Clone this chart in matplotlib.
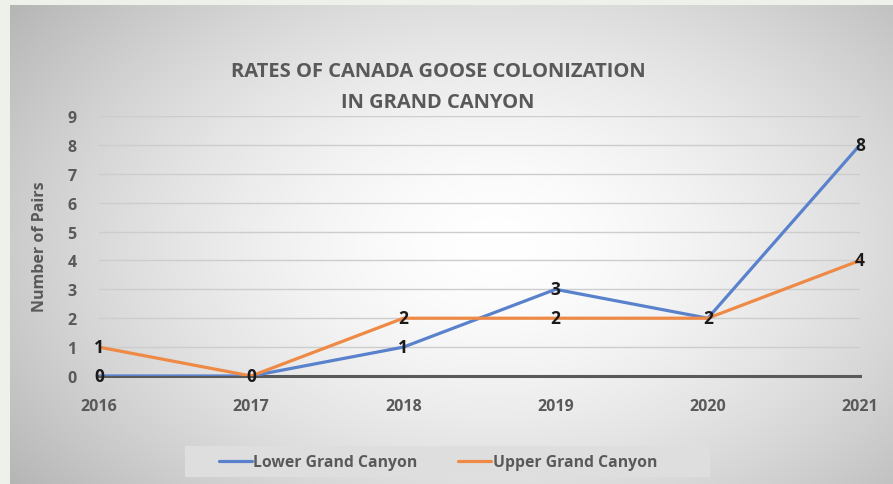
import numpy as np
import matplotlib
matplotlib.use("Agg")
import matplotlib.pyplot as plt
from matplotlib.patches import Rectangle

years = ["2016", "2017", "2018", "2019", "2020", "2021"]
lower = [0, 0, 1, 3, 2, 8]
upper = [1, 0, 2, 2, 2, 4]
series_names = ["Lower Grand Canyon", "Upper Grand Canyon"]
yticks = list(range(0, 10))

plt.rcParams['font.family'] = ['Open Sans', 'DejaVu Sans']
W, H = 893, 485
fig = plt.figure(figsize=(W/100, H/100), dpi=100)
fig.patch.set_facecolor('#eef1ea')

bg = fig.add_axes([10/W, 0, (W-10)/W, (H-6)/H])
bg.set_axis_off()
yy, xx = np.mgrid[0:1:300j, 0:1:500j]
r = np.sqrt(((xx-0.55)/0.75)**2 + ((yy-0.5)/0.9)**2)
v = np.clip(1 - 0.33*r**1.6, 0, 1)
img = np.dstack([v, v, v])
bg.imshow(img, aspect='auto', extent=[0, 1, 0, 1], interpolation='bilinear')
bg.set_xlim(0, 1); bg.set_ylim(0, 1)

# legend box background
fig.patches.append(Rectangle((185/W, 1 - 478/H), (710-185)/W, 31/H, transform=fig.transFigure,
                             facecolor='#dedede', edgecolor='none', zorder=0.5))

ax = fig.add_axes([99/W, (H-377)/H, (860-99)/W, (377-117)/H])
ax.patch.set_alpha(0)
x = np.arange(len(years))
ax.set_xlim(0, len(years)-1)
ax.set_ylim(0, 9)
for t in yticks[1:]:
    ax.axhline(t, color='#cdcdcd', lw=1.0, zorder=1)
ax.axhline(0, color='#595959', lw=2.2, zorder=2, clip_on=False)

c_low, c_up = '#5a82cc', '#ee8a45'
ax.plot(x, lower, color=c_low, lw=2.3, zorder=3, label=series_names[0], solid_capstyle='round')
ax.plot(x, upper, color=c_up, lw=2.3, zorder=4, label=series_names[1], solid_capstyle='round')

lab_kw = dict(ha='center', va='center', fontsize=12.5, fontweight='bold', color='#1a1a1a', zorder=5, clip_on=False)
for xi, v1, v2 in zip(x, lower, upper):
    ax.text(xi, v1, str(v1), **lab_kw)
    if v2 != v1:
        ax.text(xi, v2, str(v2), **lab_kw)

for s in ax.spines.values():
    s.set_visible(False)
ax.set_xticks(x)
ax.set_xticklabels(years, fontsize=11.5, fontweight='bold', color='#595959')
ax.set_yticks(yticks)
ax.set_yticklabels([str(t) for t in yticks], fontsize=11.5, fontweight='bold', color='#595959')
ax.tick_params(length=0)
ax.tick_params(axis='x', pad=16)
ax.tick_params(axis='y', pad=16)
ax.set_ylabel("Number of Pairs", fontsize=11.5, fontweight='bold', color='#595959', labelpad=14)

fig.text(438/W, 1 - 72/H, "RATES OF CANADA GOOSE COLONIZATION", ha='center', va='center',
         fontsize=14.5, fontweight='bold', color='#595959')
fig.text(438/W, 1 - 103/H, "IN GRAND CANYON", ha='center', va='center',
         fontsize=14.5, fontweight='bold', color='#595959')

leg = fig.legend(loc='center', bbox_to_anchor=(438/W, 1 - 463/H), ncol=2, frameon=False,
                 handlelength=2.1, columnspacing=2.6, handletextpad=0.1,
                 borderpad=0.2, prop={'weight': 'bold', 'size': 11.3})
for t in leg.get_texts():
    t.set_color('#595959')

fig.savefig("out.png", dpi=100, facecolor=fig.get_facecolor())
